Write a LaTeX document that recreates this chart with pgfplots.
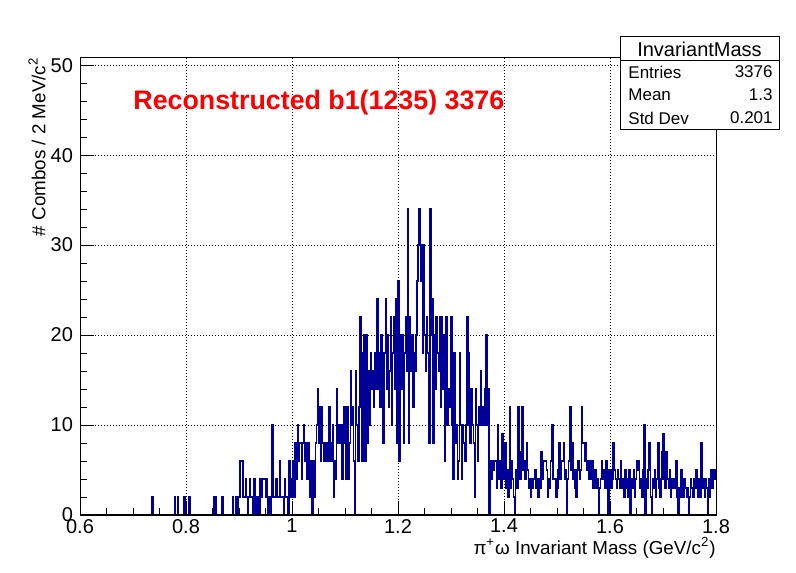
\documentclass[border=0pt]{standalone}
\usepackage{fontspec}
\setmainfont{Liberation Sans}
\usepackage{pgfplots}
\pgfplotsset{compat=1.18}
\definecolor{rootblue}{RGB}{0,0,153}

\begin{document}
\begin{tikzpicture}
% 1 px of the reference = 0.5pt
\path[use as bounding box] (0,0) rectangle (398pt,286pt);
\begin{axis}[
    at={(40pt,28.5pt)}, anchor=south west,
    scale only axis,
    width=318pt, height=228.5pt,
    xmin=0.6, xmax=1.8,
    ymin=0, ymax=50.8,
    xtick={0.6,0.8,1,1.2,1.4,1.6,1.8},
    ytick={0,10,20,30,40,50},
    minor x tick num=3,
    minor y tick num=4,
    xtick pos=bottom, ytick pos=left,
    tick align=inside,
    major tick length=7pt, minor tick length=3.5pt,
    axis line style={line width=0.5pt},
    every tick/.style={black, line width=0.5pt},
    grid=major,
    major grid style={black, line width=0.5pt, dash pattern=on 0.5pt off 1pt},
    /pgf/number format/assume math mode=true,
    ticklabel style={font=\fontsize{10}{12}\selectfont},
    xticklabel style={yshift=1.5pt},
    yticklabel style={xshift=0pt},
]
\addplot[const plot, rootblue, line width=0.75pt]
  table[row sep=\\, header=false, x expr=0.6+0.002*\coordindex, y index=0] {
0\\ 0\\ 0\\ 0\\ 0\\ 0\\ 0\\ 0\\ 0\\ 0\\
0\\ 0\\ 0\\ 0\\ 0\\ 0\\ 0\\ 0\\ 0\\ 0\\
0\\ 0\\ 0\\ 0\\ 0\\ 0\\ 0\\ 0\\ 0\\ 0\\
0\\ 0\\ 0\\ 0\\ 0\\ 0\\ 0\\ 0\\ 0\\ 0\\
0\\ 0\\ 0\\ 0\\ 0\\ 0\\ 0\\ 0\\ 0\\ 0\\
0\\ 0\\ 0\\ 0\\ 0\\ 0\\ 0\\ 0\\ 0\\ 0\\
0\\ 0\\ 0\\ 0\\ 0\\ 0\\ 0\\ 0\\ 2\\ 0\\
0\\ 0\\ 0\\ 0\\ 0\\ 0\\ 0\\ 0\\ 0\\ 0\\
0\\ 0\\ 0\\ 0\\ 0\\ 0\\ 0\\ 0\\ 0\\ 2\\
0\\ 0\\ 2\\ 0\\ 0\\ 0\\ 0\\ 0\\ 2\\ 0\\
0\\ 0\\ 0\\ 2\\ 0\\ 0\\ 0\\ 0\\ 0\\ 0\\
0\\ 0\\ 0\\ 0\\ 0\\ 0\\ 0\\ 0\\ 0\\ 0\\
0\\ 0\\ 0\\ 0\\ 0\\ 0\\ 2\\ 0\\ 2\\ 0\\
0\\ 0\\ 0\\ 0\\ 2\\ 0\\ 0\\ 0\\ 0\\ 0\\
0\\ 0\\ 0\\ 0\\ 2\\ 0\\ 0\\ 2\\ 0\\ 2\\
2\\ 6\\ 6\\ 6\\ 2\\ 2\\ 4\\ 2\\ 0\\ 2\\
4\\ 2\\ 2\\ 0\\ 4\\ 2\\ 0\\ 2\\ 2\\ 0\\
4\\ 2\\ 4\\ 4\\ 4\\ 2\\ 4\\ 0\\ 2\\ 0\\
2\\ 10\\ 2\\ 2\\ 2\\ 4\\ 2\\ 2\\ 6\\ 2\\
2\\ 2\\ 0\\ 4\\ 2\\ 2\\ 0\\ 6\\ 4\\ 2\\
4\\ 6\\ 2\\ 8\\ 4\\ 10\\ 6\\ 8\\ 8\\ 4\\
8\\ 10\\ 6\\ 8\\ 4\\ 8\\ 6\\ 2\\ 6\\ 0\\
6\\ 2\\ 8\\ 10\\ 14\\ 8\\ 12\\ 6\\ 12\\ 8\\
6\\ 8\\ 6\\ 8\\ 6\\ 12\\ 8\\ 6\\ 10\\ 2\\
6\\ 4\\ 14\\ 8\\ 10\\ 8\\ 10\\ 4\\ 8\\ 12\\
8\\ 4\\ 12\\ 4\\ 8\\ 16\\ 10\\ 12\\ 6\\ 0\\
16\\ 10\\ 6\\ 12\\ 22\\ 12\\ 6\\ 18\\ 20\\ 6\\
20\\ 8\\ 16\\ 10\\ 18\\ 14\\ 16\\ 12\\ 18\\ 14\\
24\\ 14\\ 18\\ 12\\ 20\\ 16\\ 8\\ 18\\ 24\\ 14\\
20\\ 12\\ 16\\ 22\\ 10\\ 18\\ 22\\ 14\\ 24\\ 8\\
26\\ 6\\ 20\\ 14\\ 20\\ 8\\ 18\\ 22\\ 16\\ 34\\
8\\ 22\\ 16\\ 20\\ 12\\ 18\\ 16\\ 20\\ 26\\ 30\\
34\\ 26\\ 30\\ 18\\ 30\\ 20\\ 16\\ 22\\ 18\\ 8\\
34\\ 20\\ 24\\ 8\\ 20\\ 14\\ 22\\ 18\\ 16\\ 22\\
12\\ 22\\ 14\\ 20\\ 6\\ 22\\ 10\\ 14\\ 14\\ 12\\
22\\ 10\\ 4\\ 18\\ 8\\ 10\\ 4\\ 6\\ 18\\ 10\\
4\\ 10\\ 8\\ 6\\ 10\\ 22\\ 18\\ 10\\ 8\\ 14\\
10\\ 8\\ 2\\ 14\\ 10\\ 6\\ 12\\ 10\\ 16\\ 10\\
12\\ 10\\ 14\\ 20\\ 10\\ 14\\ 0\\ 6\\ 4\\ 6\\
5\\ 6\\ 6\\ 3\\ 10\\ 4\\ 6\\ 3\\ 9\\ 4\\
6\\ 8\\ 3\\ 5\\ 2\\ 12\\ 3\\ 6\\ 4\\ 2\\
0\\ 5\\ 3\\ 12\\ 6\\ 4\\ 7\\ 12\\ 5\\ 6\\
4\\ 8\\ 5\\ 3\\ 4\\ 2\\ 4\\ 3\\ 4\\ 5\\
3\\ 4\\ 2\\ 4\\ 3\\ 7\\ 4\\ 6\\ 6\\ 6\\
5\\ 2\\ 4\\ 3\\ 6\\ 10\\ 4\\ 4\\ 4\\ 2\\
3\\ 5\\ 8\\ 4\\ 6\\ 6\\ 8\\ 4\\ 5\\ 0\\
4\\ 6\\ 12\\ 5\\ 8\\ 4\\ 5\\ 3\\ 2\\ 5\\
6\\ 4\\ 5\\ 12\\ 8\\ 8\\ 6\\ 8\\ 5\\ 6\\
4\\ 6\\ 4\\ 6\\ 3\\ 4\\ 5\\ 3\\ 4\\ 0\\
3\\ 4\\ 6\\ 4\\ 5\\ 3\\ 6\\ 5\\ 0\\ 4\\
5\\ 3\\ 4\\ 8\\ 5\\ 4\\ 3\\ 5\\ 4\\ 3\\
6\\ 3\\ 4\\ 2\\ 5\\ 3\\ 4\\ 2\\ 5\\ 0\\
4\\ 3\\ 5\\ 2\\ 4\\ 6\\ 5\\ 6\\ 3\\ 4\\
2\\ 5\\ 10\\ 0\\ 4\\ 3\\ 5\\ 8\\ 2\\ 0\\
4\\ 3\\ 5\\ 2\\ 4\\ 8\\ 3\\ 2\\ 4\\ 7\\
9\\ 4\\ 3\\ 7\\ 4\\ 3\\ 5\\ 2\\ 4\\ 3\\
4\\ 3\\ 6\\ 2\\ 0\\ 3\\ 2\\ 5\\ 3\\ 2\\
4\\ 3\\ 2\\ 3\\ 0\\ 2\\ 4\\ 3\\ 2\\ 4\\
3\\ 5\\ 3\\ 2\\ 4\\ 2\\ 8\\ 3\\ 4\\ 2\\
4\\ 3\\ 0\\ 4\\ 2\\ 5\\ 3\\ 5\\ 4\\ 5\\
5\\
};
\end{axis}
% the frame's bottom line is drawn over the empty bins, as ROOT does
\draw[black, line width=0.85pt] (40pt,28.5pt) -- (358pt,28.5pt);
\begin{scope}[x=0.5pt, y=-0.5pt, yshift=286pt]
  % title
  \node[anchor=west, inner sep=0pt, text=red, font=\fontsize{13.4}{16}\selectfont\bfseries]
    at (133,103) {Reconstructed b1(1235) 3376};
  % axis titles
  \node[anchor=east, inner sep=0pt, rotate=90, font=\fontsize{9.4}{11}\selectfont]
    at (37,57) {\# Combos / 2 MeV/c\textsuperscript{2}};
  \node[anchor=east, inner sep=0pt, font=\fontsize{9.4}{11}\selectfont]
    at (716,548) {π\textsuperscript{+}ω Invariant Mass (GeV/c\textsuperscript{2})};
  % stats box
  \draw[line width=0.5pt, fill=white] (620,37) rectangle (779,130);
  \draw[line width=0.5pt] (620,61) -- (779,61);
  \node[font=\fontsize{10}{12}\selectfont, inner sep=0pt] at (699.5,49) {InvariantMass};
  \begin{scope}[every node/.style={inner sep=0pt, font=\fontsize{8.5}{10}\selectfont}]
    \node[anchor=west] at (628,72) {Entries};
    \node[anchor=east] at (773,72) {3376};
    \node[anchor=west] at (628,95) {Mean};
    \node[anchor=east] at (773,95) {1.3};
    \node[anchor=west] at (628,118) {Std Dev};
    \node[anchor=east] at (773,118) {0.201};
  \end{scope}
\end{scope}
\end{tikzpicture}
\end{document}
